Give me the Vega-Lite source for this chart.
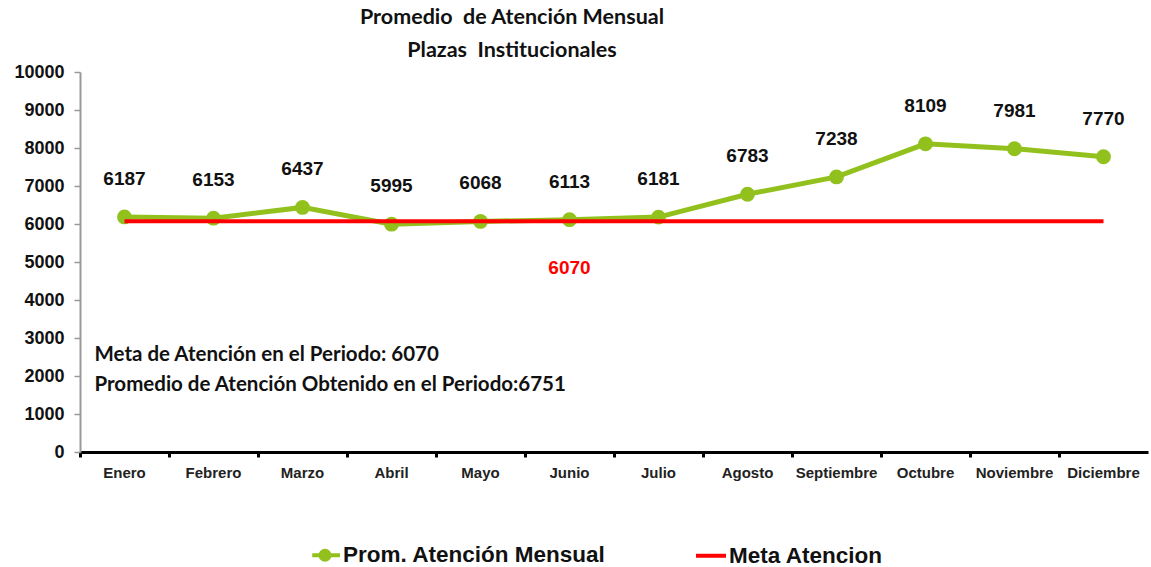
{
  "$schema": "https://vega.github.io/schema/vega-lite/v6.json",
  "width": 1068,
  "height": 380,
  "autosize": "none",
  "padding": {"left": 80, "top": 72, "right": 3, "bottom": 115},
  "background": "white",
  "config": {"view": {"stroke": null}},
  "title": {
    "text": ["Promedio \u00a0de Atención Mensual", "Plazas \u00a0Institucionales"],
    "font": "Lato",
    "fontSize": 21.5,
    "fontWeight": "bold",
    "lineHeight": 33,
    "anchor": "middle",
    "dx": -102,
    "offset": 2,
    "color": "#111111"
  },
  "data": {
    "values": [
      {"mes": "Enero", "serie": "Prom. Atención Mensual", "valor": 6187},
      {"mes": "Febrero", "serie": "Prom. Atención Mensual", "valor": 6153},
      {"mes": "Marzo", "serie": "Prom. Atención Mensual", "valor": 6437},
      {"mes": "Abril", "serie": "Prom. Atención Mensual", "valor": 5995},
      {"mes": "Mayo", "serie": "Prom. Atención Mensual", "valor": 6068},
      {"mes": "Junio", "serie": "Prom. Atención Mensual", "valor": 6113},
      {"mes": "Julio", "serie": "Prom. Atención Mensual", "valor": 6181},
      {"mes": "Agosto", "serie": "Prom. Atención Mensual", "valor": 6783},
      {"mes": "Septiembre", "serie": "Prom. Atención Mensual", "valor": 7238},
      {"mes": "Octubre", "serie": "Prom. Atención Mensual", "valor": 8109},
      {"mes": "Noviembre", "serie": "Prom. Atención Mensual", "valor": 7981},
      {"mes": "Diciembre", "serie": "Prom. Atención Mensual", "valor": 7770},
      {"mes": "Enero", "serie": "Meta Atencion", "valor": 6070},
      {"mes": "Febrero", "serie": "Meta Atencion", "valor": 6070},
      {"mes": "Marzo", "serie": "Meta Atencion", "valor": 6070},
      {"mes": "Abril", "serie": "Meta Atencion", "valor": 6070},
      {"mes": "Mayo", "serie": "Meta Atencion", "valor": 6070},
      {"mes": "Junio", "serie": "Meta Atencion", "valor": 6070},
      {"mes": "Julio", "serie": "Meta Atencion", "valor": 6070},
      {"mes": "Agosto", "serie": "Meta Atencion", "valor": 6070},
      {"mes": "Septiembre", "serie": "Meta Atencion", "valor": 6070},
      {"mes": "Octubre", "serie": "Meta Atencion", "valor": 6070},
      {"mes": "Noviembre", "serie": "Meta Atencion", "valor": 6070},
      {"mes": "Diciembre", "serie": "Meta Atencion", "valor": 6070}
    ]
  },
  "encoding": {
    "x": {
      "field": "mes",
      "type": "nominal",
      "sort": null,
      "scale": {"type": "band", "paddingInner": 0, "paddingOuter": 0},
      "axis": {
        "title": null,
        "labelAngle": 0,
        "bandPosition": 0,
        "domainColor": "#000000",
        "domainWidth": 3,
        "tickColor": "#000000",
        "tickWidth": 3,
        "tickSize": 5,
        "labelFont": "Liberation Sans",
        "labelFontSize": 15,
        "labelFontWeight": "bold",
        "labelColor": "#222222",
        "labelPadding": 8
      }
    },
    "y": {
      "field": "valor",
      "type": "quantitative",
      "scale": {"domain": [0, 10000], "nice": false},
      "axis": {
        "title": null,
        "grid": false,
        "format": "d",
        "values": [0, 1000, 2000, 3000, 4000, 5000, 6000, 7000, 8000, 9000, 10000],
        "domainColor": "#999999",
        "domainWidth": 2,
        "tickColor": "#999999",
        "tickWidth": 1.5,
        "tickSize": 6,
        "labelFont": "Liberation Sans",
        "labelFontSize": 18,
        "labelFontWeight": "bold",
        "labelColor": "#111111",
        "labelPadding": 10
      }
    }
  },
  "layer": [
    {
      "transform": [{"filter": "datum.serie === 'Prom. Atención Mensual'"}],
      "mark": {"type": "line", "strokeWidth": 5},
      "encoding": {
        "color": {
          "field": "serie",
          "type": "nominal",
          "scale": {"domain": ["Prom. Atención Mensual", "Meta Atencion"], "range": ["#92c11e", "#ff0000"]},
          "legend": {
            "orient": "none",
            "legendX": 228,
            "legendY": 466,
            "direction": "horizontal",
            "title": null,
            "labelFont": "Liberation Sans",
            "labelFontSize": 22.5,
            "labelFontWeight": "bold",
            "labelColor": "#111111",
            "labelLimit": 500,
            "symbolSize": 900,
            "symbolStrokeWidth": 4,
            "columnPadding": 82,
            "labelOffset": 1,
            "encode": {
              "symbols": {
                "update": {
                  "shape": {"signal": "datum.value === 'Meta Atencion' ? 'M-1,0L1,0' : 'M-0.85,0L1,0M-0.3,0A0.3,0.3,0,1,1,0.3,0A0.3,0.3,0,1,1,-0.3,0'"},
                  "fill": {"signal": "datum.value === 'Meta Atencion' ? 'transparent' : '#92c11e'"}
                }
              }
            }
          }
        }
      }
    },
    {
      "transform": [{"filter": "datum.serie === 'Prom. Atención Mensual'"}],
      "mark": {"type": "point", "filled": true, "size": 220, "opacity": 1, "color": "#92c11e"}
    },
    {
      "transform": [{"filter": "datum.serie === 'Meta Atencion'"}],
      "mark": {"type": "line", "strokeWidth": 4},
      "encoding": {"color": {"field": "serie", "type": "nominal"}}
    },
    {
      "transform": [{"filter": "datum.serie === 'Prom. Atención Mensual'"}],
      "mark": {"type": "text", "dy": -38, "font": "Liberation Sans", "fontSize": 19, "fontWeight": "bold", "color": "#111111"},
      "encoding": {"text": {"field": "valor", "type": "quantitative"}}
    },
    {
      "transform": [{"filter": "datum.serie === 'Meta Atencion' && datum.mes === 'Junio'"}],
      "mark": {"type": "text", "dy": 47, "font": "Liberation Sans", "fontSize": 19, "fontWeight": "bold", "color": "#ff0000"},
      "encoding": {"text": {"field": "valor", "type": "quantitative"}}
    },
    {
      "transform": [{"filter": "datum.serie === 'Meta Atencion' && datum.mes === 'Enero'"}],
      "mark": {"type": "text", "align": "left", "dx": -30, "font": "Lato", "fontSize": 20.5, "fontWeight": "bold", "color": "#111111"},
      "encoding": {"y": {"datum": 2560}, "text": {"value": "Meta de Atención en el Periodo: 6070"}}
    },
    {
      "transform": [{"filter": "datum.serie === 'Meta Atencion' && datum.mes === 'Enero'"}],
      "mark": {"type": "text", "align": "left", "dx": -30, "font": "Lato", "fontSize": 20.5, "fontWeight": "bold", "color": "#111111"},
      "encoding": {"y": {"datum": 1770}, "text": {"value": "Promedio de Atención Obtenido en el Periodo:6751"}}
    }
  ]
}
